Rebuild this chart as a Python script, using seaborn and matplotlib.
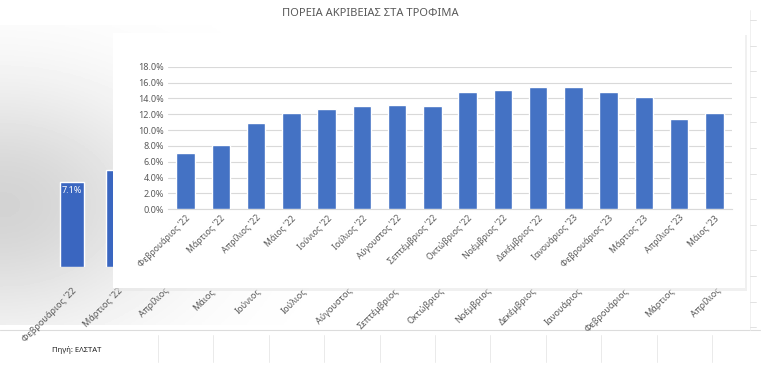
import numpy as np
import pandas as pd
import matplotlib
matplotlib.use("Agg")
import matplotlib.pyplot as plt
from matplotlib.patches import Rectangle
import seaborn as sns

sns.set_theme(style="white")
plt.rcParams['font.family'] = ['Noto Sans', 'DejaVu Sans']

# ---- data ----
months = ["Φεβρουάριος '22", "Μάρτιος '22", "Απρίλιος '22", "Μάιος '22", "Ιούνιος '22",
          "Ιούλιος '22", "Αύγουστος '22", "Σεπτέμβριος '22", "Οκτώβριος '22", "Νοέμβριος '22",
          "Δεκέμβριος '22", "Ιανουάριος '23", "Φεβρουάριος '23", "Μάρτιος '23", "Απρίλιος '23",
          "Μάιος '23"]
inflation = [7.1, 8.1, 10.9, 12.1, 12.6, 13.0, 13.2, 13.1, 14.8, 15.0, 15.5, 15.4, 14.8, 14.2, 11.4, 12.2]

bg_labels = ["Φεβρουάριος '22", "Μάρτιος '22", "Απρίλιος", "Μάιος", "Ιούνιος", "Ιούλιος",
             "Αύγουστος", "Σεπτέμβριος", "Οκτώβριος", "Νοέμβριος", "Δεκέμβριος", "Ιανουάριος",
             "Φεβρουάριος", "Μάρτιος", "Απρίλιος"]
bg_values = [7.1, 8.1, 10.9, 12.1, 12.6, 13.0, 13.2, 13.1, 14.8, 15.0, 15.5, 15.4, 14.8, 14.2, 11.4]

title = "ΠΟΡΕΙΑ ΑΚΡΙΒΕΙΑΣ ΣΤΑ ΤΡΟΦΙΜΑ"
source = "Πηγή: ΕΛΣΤΑΤ"
yticks = [0, 2, 4, 6, 8, 10, 12, 14, 16, 18]

W, H = 775, 365
fig = plt.figure(figsize=(W / 100, H / 100), dpi=100)
fig.patch.set_facecolor("white")

def rect(x0, y0, x1, y1):
    return [x0 / W, 1 - y1 / H, (x1 - x0) / W, (y1 - y0) / H]

# ---- backdrop layer (pixel coordinates) ----
bg = fig.add_axes([0, 0, 1, 1], zorder=0)
bg.set_xlim(0, W)
bg.set_ylim(H, 0)
bg.axis("off")
xx, yy = np.meshgrid(np.linspace(0, 1, 200), np.linspace(0, 1, 100))
shade = np.exp(-((xx / 0.22) ** 2)) * np.exp(-(((yy - 0.6) / 0.4) ** 2))
img = 1 - 0.17 * shade
bg.imshow(img, extent=[0, W, 325, 25], cmap="gray", vmin=0, vmax=1, aspect="auto", zorder=0)
bg.text(370, 13, title, ha="center", va="center", fontsize=8, color="#595959",
        family=['Liberation Sans Narrow', 'Noto Sans', 'DejaVu Sans'])
bg.plot([0, 760], [330, 330], color="#dcdcdc", lw=0.8, zorder=1)
for x in np.arange(158, 760, 55.4):
    bg.plot([x, x], [335, 362], color="#e6e6e6", lw=0.6, zorder=1)
bg.plot([750, 750], [10, 330], color="#eeeeee", lw=0.6, zorder=1)
for y in np.arange(20, 330, 25.6):
    bg.plot([750, 756], [y, y], color="#dddddd", lw=0.6, zorder=1)
bg.text(52, 350, source, ha="left", va="center", fontsize=5.5, color="#222222",
        family=['Liberation Sans Narrow', 'Noto Sans', 'DejaVu Sans'])

# ---- background chart (mostly hidden) ----
ax_b = fig.add_axes(rect(49, 51, 739, 267), zorder=1)
ax_b.patch.set_alpha(0)
dfb = pd.DataFrame({"m": bg_labels, "v": bg_values})
sns.barplot(data=dfb, x="m", y="v", ax=ax_b, color="#3a66c0", width=0.52, saturation=1)
ax_b.set_ylim(0, 18)
ax_b.set_xlim(-0.5, len(bg_labels) - 0.5)
ax_b.set_xlabel("")
ax_b.set_ylabel("")
ax_b.set_yticks([])
for s in ax_b.spines.values():
    s.set_visible(False)
ax_b.set_xticks(range(len(bg_labels)))
ax_b.set_xticklabels(bg_labels, rotation=45, ha="right", rotation_mode="anchor",
                     fontsize=6.5, color="#595959")
ax_b.tick_params(axis="x", length=0, pad=14)
ax_b.text(0, bg_values[0] - 0.7, f"{bg_values[0]:.1f}%", ha="center", va="center",
          fontsize=6.5, color="white", fontweight="bold")

# ---- main white panel ----
panel_ax = fig.add_axes([0, 0, 1, 1], zorder=2)
panel_ax.set_xlim(0, W)
panel_ax.set_ylim(H, 0)
panel_ax.axis("off")
panel_ax.patch.set_alpha(0)
panel_ax.add_patch(Rectangle((115, 35), 632, 256, facecolor="#e6e6e6", edgecolor="none", alpha=0.6))
panel_ax.add_patch(Rectangle((113, 33), 632, 255, facecolor="white", edgecolor="none"))

# ---- main chart ----
ax = fig.add_axes(rect(168, 66.7, 732, 209.3), zorder=3)
ax.patch.set_alpha(0)
df = pd.DataFrame({"month": months, "value": inflation})
sns.barplot(data=df, x="month", y="value", ax=ax, color="#4472C4", width=0.52, saturation=1, zorder=3)
ax.set_ylim(0, 18)
ax.set_xlim(-0.5, len(months) - 0.5)
ax.set_yticks(yticks)
ax.set_yticklabels([f"{v:.1f}%" for v in yticks], fontsize=6.5, color="#595959")
ax.set_xticks(range(len(months)))
ax.set_xticklabels(months, rotation=45, ha="right", rotation_mode="anchor",
                   fontsize=6.2, color="#595959")
ax.tick_params(axis="both", length=0, pad=3)
ax.set_xlabel("")
ax.set_ylabel("")
ax.grid(axis="y", color="#d9d9d9", lw=0.8, zorder=0)
ax.set_axisbelow(True)
for name, s in ax.spines.items():
    s.set_visible(name == "bottom")
ax.spines["bottom"].set_color("#d9d9d9")
ax.spines["bottom"].set_linewidth(0.8)

fig.savefig("out.png", dpi=100, facecolor="white")
